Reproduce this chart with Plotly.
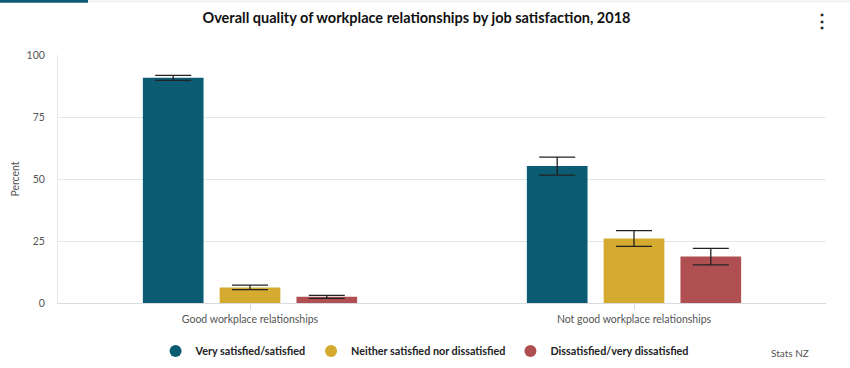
import plotly.graph_objects as go

categories = ["Good workplace relationships", "Not good workplace relationships"]
series_names = ["Very satisfied/satisfied", "Neither satisfied nor dissatisfied", "Dissatisfied/very dissatisfied"]
very_satisfied = [90.8, 55.2]
very_satisfied_err = [1.0, 3.6]
neither = [6.3, 26.0]
neither_err = [0.9, 3.2]
dissatisfied = [2.5, 18.7]
dissatisfied_err = [0.6, 3.3]
colors = ["#0b5c73", "#d4ab2e", "#b04f51"]

fig = go.Figure()
values = [very_satisfied, neither, dissatisfied]
errs = [very_satisfied_err, neither_err, dissatisfied_err]
for name, v, e, c in zip(series_names, values, errs, colors):
    fig.add_trace(go.Bar(
        x=categories, y=v, name=name, marker=dict(color=c, line=dict(width=0)),
        error_y=dict(type="data", array=e, visible=True, color="#222222", thickness=1.3, width=18),
        showlegend=False,
    ))
for name, c in zip(series_names, colors):
    fig.add_trace(go.Scatter(
        x=[None], y=[None], mode="markers", name=name,
        marker=dict(color=c, size=12, symbol="circle"), showlegend=True,
    ))

fig.update_layout(
    width=850, height=368,
    margin=dict(l=58, r=24, t=55, b=65, autoexpand=False),
    paper_bgcolor="white", plot_bgcolor="white",
    barmode="group", bargap=0.40, bargroupgap=0.21,
    font=dict(family="Lato, Open Sans, sans-serif", color="#444444"),
    title=dict(text="<b>Overall quality of workplace relationships by job satisfaction, 2018</b>",
               x=0.49, xanchor="center", y=1 - 18 / 368, yanchor="middle",
               font=dict(size=14.5, color="#111111")),
    legend=dict(orientation="h", xref="container", yref="container", x=0.183, xanchor="left",
                y=1 - 351 / 368, yanchor="middle",
                font=dict(size=10.8, color="#222222", family="Lato, sans-serif", weight="bold"),
                itemwidth=30, traceorder="normal", tracegroupgap=0),
    xaxis=dict(showgrid=False, showline=True, linecolor="#d8dbe0", ticks="outside", automargin=False,
               tickcolor="#d8dbe0", ticklen=6, tickfont=dict(size=10.5, color="#555555")),
    yaxis=dict(range=[0, 100], tickvals=[0, 25, 50, 75, 100], showgrid=True, gridcolor="#e4e6ea",
               showline=True, linecolor="#e4e6ea", zeroline=False, ticks="", ticklabelstandoff=10,
               automargin=False,
               tickfont=dict(size=10.5, color="#555555"),
               title=dict(text="Percent", font=dict(size=10.5, color="#555555"), standoff=4)),
)

fig.add_annotation(text="Stats NZ", xref="paper", yref="paper", x=0.98, y=-0.2,
                   xanchor="right", yanchor="middle", showarrow=False,
                   font=dict(size=10, color="#555555"))
fig.add_annotation(text="<b>⋮</b>", xref="paper", yref="paper", x=0.995, y=1.14,
                   xanchor="center", yanchor="middle", showarrow=False,
                   font=dict(size=18, color="#222222"))
fig.add_shape(type="line", xref="paper", yref="paper", x0=-0.08, x1=1.04, y0=1.217, y1=1.217,
              line=dict(color="#e6e6e6", width=1))
fig.add_shape(type="line", xref="paper", yref="paper", x0=-0.0755, x1=0.039, y0=1.217, y1=1.217,
              line=dict(color="#0b5c73", width=3))

fig.write_html("out.html", config={"displayModeBar": False},
               post_script="document.body.style.margin='0';")
